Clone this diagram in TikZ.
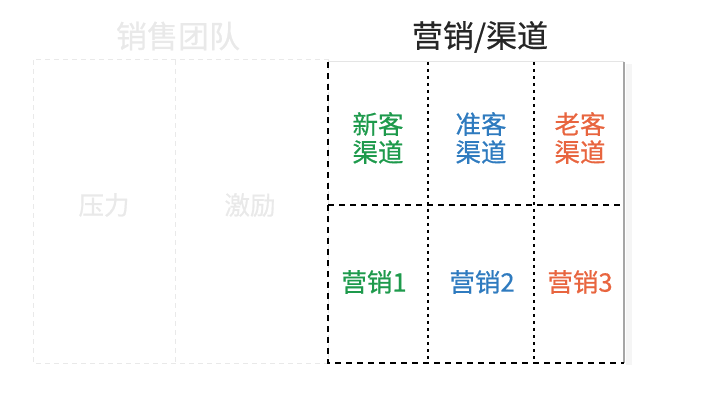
\documentclass[tikz,border=0pt]{standalone}
\usepackage{fontspec}
\setmainfont{Noto Sans CJK SC}
\newfontfamily\medfont{Noto Sans CJK SC}[FakeBold=0.6]
\usepackage{tikz}

\definecolor{newgreen}{HTML}{1E9A4C}
\definecolor{midblue}{HTML}{2F7BBF}
\definecolor{oldorange}{HTML}{E8653F}
\definecolor{faded}{HTML}{E9E9E9}

\begin{document}
\begin{tikzpicture}[
            x=1pt, y=-1pt,
            title/.style={font=\medfont\fontsize{31}{34}\selectfont, inner sep=0pt},
            cell/.style={font=\medfont\fontsize{25.5}{28}\selectfont, inner sep=0pt, align=center},
            dashline/.style={line width=1.4pt, dash pattern=on 6pt off 5pt},
            dotline/.style={line width=1.6pt, dash pattern=on 3pt off 4pt}
        ]
            \useasboundingbox (0,0) rectangle (720,403);
            % faded team part
            \draw[faded, line width=1pt, dash pattern=on 5pt off 4pt]
                (33,60) rectangle (328,363) (175,60) -- (175,363);
            \node[title, text=faded] (team) at (178,36) {销售团队};
            \node[cell, text=faded] (press) at (104,205) {压力};
            \node[cell, text=faded] (incent) at (250,205) {激励};
            % channel grid
            \fill[gray!8] (626,64) rectangle (632,365);
            \draw[gray!20, line width=1pt] (328,62) -- (624,62);
            \draw[gray!70, line width=1.5pt] (624,62) -- (624,363);
            \draw[dashline] (328,62) -- (328,363) -- (624,363);
            \draw[dashline] (328,205) -- (624,205);
            \draw[dotline] (428,62) -- (428,363);
            \draw[dotline] (534,62) -- (534,363);
            \node[title, text=black!85] (chan) at (480,37) {营销/渠道};
            \node[cell, text=newgreen] (newch) at (378,138) {新客\\渠道};
            \node[cell, text=midblue] (midch) at (481,138) {准客\\渠道};
            \node[cell, text=oldorange] (oldch) at (580,138) {老客\\渠道};
            \node[cell, text=newgreen] (mk1) at (374,282) {营销1};
            \node[cell, text=midblue] (mk2) at (482,282) {营销2};
            \node[cell, text=oldorange] (mk3) at (580,282) {营销3};
        \end{tikzpicture}
\end{document}
